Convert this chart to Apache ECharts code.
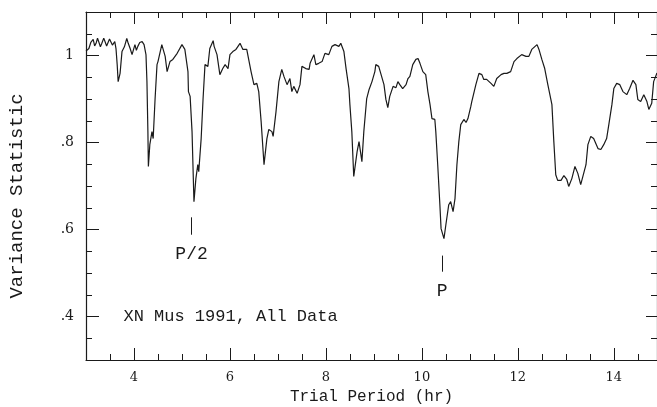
<!DOCTYPE html>
<html>
<head>
<meta charset="utf-8">
<script src="https://cdn.jsdelivr.net/npm/echarts@6/dist/echarts.min.js"></script>
<style>
  html, body { margin: 0; padding: 0; background: #fff; }
  #chart { width: 657px; height: 407px; }
</style>
</head>
<body>
<div id="chart"></div>
<script>
// trial periods (hr) and variance statistic
var periodHr = [
  3.00, 3.06, 3.10, 3.15, 3.18, 3.21, 3.24, 3.27, 3.30, 3.33, 3.37, 3.40, 3.43, 3.46, 3.49, 3.52, 3.55, 3.58, 3.60, 3.625,
  3.65, 3.67, 3.71, 3.75, 3.80, 3.85, 3.88, 3.92, 3.96, 4.02, 4.05, 4.08, 4.12, 4.17, 4.21, 4.25, 4.27, 4.29, 4.30, 4.33,
  4.375, 4.40, 4.44, 4.48, 4.50, 4.58, 4.65, 4.69, 4.75, 4.81, 4.90, 5.00, 5.06, 5.125, 5.135, 5.17, 5.21, 5.25, 5.29, 5.33,
  5.35, 5.40, 5.44, 5.48, 5.54, 5.58, 5.65, 5.67, 5.73, 5.79, 5.85, 5.90, 5.96, 6.00, 6.06, 6.125, 6.21, 6.27, 6.35, 6.44,
  6.50, 6.56, 6.60, 6.65, 6.71, 6.77, 6.81, 6.875, 6.90, 6.96, 7.02, 7.08, 7.125, 7.19, 7.25, 7.29, 7.33, 7.40, 7.46, 7.50,
  7.54, 7.58, 7.65, 7.67, 7.75, 7.79, 7.85, 7.92, 7.98, 8.06, 8.125, 8.19, 8.27, 8.31, 8.375, 8.42, 8.48, 8.50, 8.54, 8.58,
  8.65, 8.69, 8.75, 8.79, 8.85, 8.90, 8.96, 9.02, 9.04, 9.10, 9.15, 9.21, 9.25, 9.29, 9.33, 9.40, 9.46, 9.50, 9.54, 9.60,
  9.67, 9.71, 9.75, 9.81, 9.875, 9.92, 9.96, 10.02, 10.08, 10.125, 10.17, 10.21, 10.27, 10.29, 10.33, 10.375, 10.40, 10.46, 10.50, 10.56,
  10.60, 10.65, 10.69, 10.73, 10.77, 10.81, 10.875, 10.92, 10.96, 11.02, 11.04, 11.125, 11.19, 11.25, 11.29, 11.35, 11.44, 11.50, 11.56, 11.65,
  11.71, 11.77, 11.85, 11.92, 11.98, 12.08, 12.17, 12.23, 12.29, 12.40, 12.44, 12.50, 12.56, 12.625, 12.71, 12.75, 12.79, 12.83, 12.90, 12.96,
  13.02, 13.06, 13.125, 13.19, 13.25, 13.31, 13.35, 13.42, 13.46, 13.52, 13.58, 13.67, 13.73, 13.79, 13.85, 13.90, 13.96, 14.00, 14.06, 14.125,
  14.19, 14.27, 14.33, 14.40, 14.46, 14.50, 14.56, 14.625, 14.69, 14.73, 14.79, 14.83, 14.90
];
var varianceStat = [
  1.010, 1.016, 1.030, 1.037, 1.022, 1.028, 1.040, 1.039, 1.020, 1.028, 1.040, 1.037, 1.022, 1.025, 1.038, 1.034, 1.024, 1.028, 1.032, 1.016,
  0.979, 0.940, 0.959, 1.009, 1.020, 1.039, 1.028, 1.016, 1.002, 1.025, 1.012, 1.021, 1.030, 1.032, 1.025, 1.002, 0.940, 0.825, 0.745, 0.795,
  0.825, 0.809, 0.901, 0.979, 0.986, 1.025, 0.998, 0.963, 0.986, 0.991, 1.005, 1.025, 1.014, 0.963, 0.917, 0.906, 0.825, 0.664, 0.717, 0.749,
  0.733, 0.809, 0.901, 0.979, 0.975, 1.016, 1.034, 1.021, 1.002, 0.956, 0.970, 0.979, 0.970, 1.002, 1.009, 1.014, 1.028, 1.014, 1.014, 0.963,
  0.933, 0.936, 0.917, 0.848, 0.749, 0.809, 0.830, 0.825, 0.814, 0.871, 0.940, 0.968, 0.952, 0.933, 0.947, 0.917, 0.929, 0.913, 0.933, 0.975,
  0.979, 0.970, 0.968, 0.982, 1.002, 0.979, 0.982, 0.986, 1.005, 1.002, 1.021, 1.025, 1.021, 1.028, 1.009, 0.970, 0.924, 0.887, 0.825, 0.722,
  0.779, 0.802, 0.756, 0.825, 0.901, 0.922, 0.940, 0.963, 0.979, 0.975, 0.956, 0.933, 0.899, 0.880, 0.906, 0.929, 0.926, 0.940, 0.933, 0.924,
  0.933, 0.947, 0.952, 0.979, 0.991, 0.993, 0.982, 0.963, 0.956, 0.917, 0.887, 0.855, 0.853, 0.825, 0.749, 0.657, 0.602, 0.579, 0.611, 0.657,
  0.664, 0.641, 0.671, 0.749, 0.802, 0.841, 0.853, 0.846, 0.855, 0.883, 0.894, 0.933, 0.959, 0.956, 0.945, 0.945, 0.936, 0.929, 0.947, 0.956,
  0.959, 0.959, 0.963, 0.986, 0.993, 1.002, 0.998, 0.998, 1.014, 1.025, 1.014, 0.991, 0.970, 0.933, 0.887, 0.802, 0.726, 0.713, 0.713, 0.724,
  0.715, 0.699, 0.717, 0.745, 0.729, 0.703, 0.706, 0.749, 0.795, 0.814, 0.809, 0.786, 0.784, 0.795, 0.809, 0.844, 0.887, 0.924, 0.936, 0.933,
  0.917, 0.910, 0.924, 0.943, 0.933, 0.899, 0.894, 0.910, 0.894, 0.876, 0.890, 0.940, 0.960
];

var periodLabels = [4, 6, 8, 10, 12, 14];
var varianceLabels = [0.4, 0.6, 0.8, 1.0];

// marked periods: P/2 and P
var markNames = ['P/2', 'P'];
var markPeriods = [5.2, 10.42];

var FONT = 'DejaVu Serif';
var MONO = 'Liberation Mono';
var INK = '#1a1a1a';

var points = periodHr.map(function (p, i) { return [p, varianceStat[i]]; });

function xAx(pos, opts) {
  return Object.assign({
    type: 'value', position: pos, min: 3, max: 14.9, interval: 0.5,
    axisLine: { show: true, onZero: false, lineStyle: { color: INK, width: 1.2 } },
    axisTick: { show: true, inside: true, length: 6, lineStyle: { color: INK, width: 1 } },
    axisLabel: { show: false },
    splitLine: { show: false }
  }, opts);
}
function yAx(pos, opts) {
  return Object.assign({
    type: 'value', position: pos, min: 0.3, max: 1.1, interval: 0.05,
    axisLine: { show: true, onZero: false, lineStyle: { color: INK, width: 1.2 } },
    axisTick: { show: true, inside: true, length: 6, lineStyle: { color: INK, width: 1 } },
    axisLabel: { show: false },
    splitLine: { show: false }
  }, opts);
}

var chart = echarts.init(document.getElementById('chart'));
chart.setOption({
  animation: false,
  grid: { left: 86, right: 0, top: 12, bottom: 47, containLabel: false, outerBoundsMode: 'none' },
  xAxis: [
    xAx('bottom', {
      name: 'Trial Period (hr)', nameLocation: 'middle', nameGap: 29,
      nameTextStyle: { fontFamily: MONO, fontSize: 16, color: INK },
      axisLabel: {
        show: true, customValues: periodLabels, margin: 11,
        fontFamily: FONT, fontSize: 13, color: INK
      }
    }),
    xAx('bottom', { axisLine: { show: false }, axisTick: { show: true, inside: true, length: 12, customValues: periodLabels, lineStyle: { color: INK } } }),
    xAx('top', {}),
    xAx('top', { axisLine: { show: false }, axisTick: { show: true, inside: true, length: 12, customValues: periodLabels, lineStyle: { color: INK } } })
  ],
  yAxis: [
    yAx('left', {
      name: 'Variance Statistic', nameLocation: 'middle', nameGap: 60,
      nameTextStyle: { fontFamily: MONO, fontSize: 19, color: INK, padding: [0, 20, 0, 0] },
      axisLabel: {
        show: true, customValues: varianceLabels, margin: 12,
        fontFamily: FONT, fontSize: 14, color: INK,
        formatter: function (v) { return v >= 0.999 ? '1' : v.toFixed(1).replace('0.', '.'); }
      }
    }),
    yAx('left', { axisLine: { show: false }, axisTick: { show: true, inside: true, length: 13, customValues: varianceLabels, lineStyle: { color: INK } } }),
    yAx('right', {}),
    yAx('right', { axisLine: { show: false }, axisTick: { show: true, inside: true, length: 11, customValues: varianceLabels, lineStyle: { color: INK } } })
  ],
  series: [{
    type: 'line',
    data: points,
    showSymbol: false,
    symbol: 'none',
    lineStyle: { color: INK, width: 1.2 },
    silent: true,
    markLine: {
      silent: true, symbol: 'none', label: { show: false },
      lineStyle: { color: INK, width: 1, type: 'solid' },
      data: [
        [{ coord: [markPeriods[0], 0.628] }, { coord: [markPeriods[0], 0.588] }],
        [{ coord: [markPeriods[1], 0.54] }, { coord: [markPeriods[1], 0.503] }]
      ]
    },
    markPoint: {
      silent: true, symbol: 'circle', symbolSize: 0,
      label: { show: true, position: 'inside', fontFamily: MONO, fontSize: 18, color: INK, formatter: '{b}' },
      data: [
        { name: markNames[0], coord: [markPeriods[0], 0.542] },
        { name: markNames[1], coord: [markPeriods[1], 0.459] },
        { name: 'XN Mus 1991, All Data', coord: [3.78, 0.4], label: { align: 'left', fontSize: 17 } }
      ]
    }
  }]
});
</script>
</body>
</html>
